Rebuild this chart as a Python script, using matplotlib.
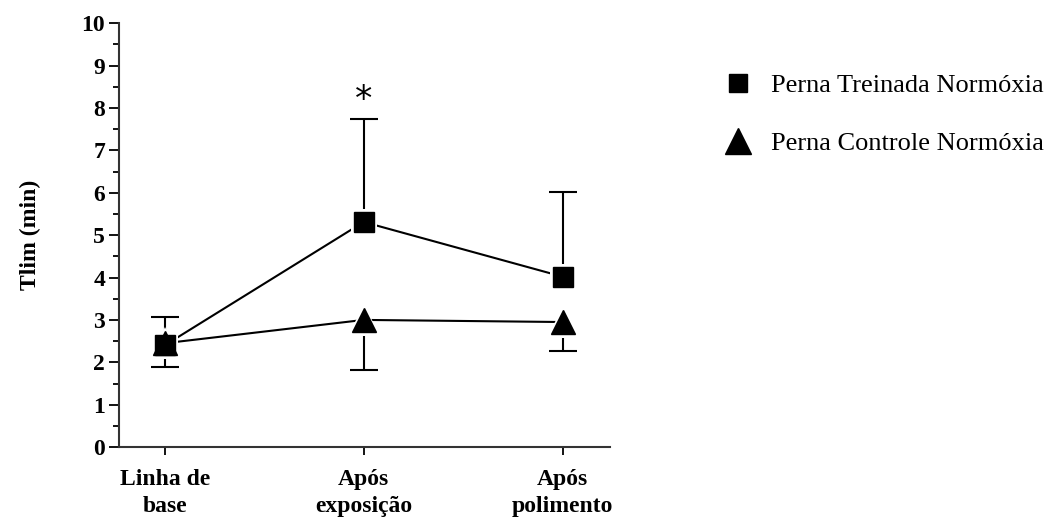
import numpy as np
import matplotlib.pyplot as plt
from matplotlib.lines import Line2D
from matplotlib.ticker import MultipleLocator

plt.rcParams['font.family'] = ['Liberation Serif', 'DejaVu Serif']

# data
categories = ['Linha de\nbase', 'Após\nexposição', 'Após\npolimento']
treinada = np.array([2.40, 5.31, 4.02])
treinada_up = np.array([0.68, 2.42, 2.00])
controle = np.array([2.45, 3.00, 2.95])
controle_down = np.array([0.57, 1.18, 0.69])

x = np.arange(len(categories))

fig = plt.figure(figsize=(10.5, 5.26), dpi=100)
ax = fig.add_axes([0.1133, 0.150, 0.468, 0.806])

# one-sided error bars (treinada up, controle down)
t_top = treinada + treinada_up
c_bot = controle - controle_down
ax.vlines(x, treinada, t_top, color='black', lw=1.5, zorder=2)
ax.vlines(x, c_bot, controle, color='black', lw=1.5, zorder=2)
ax.plot(x, t_top, ls='none', marker='_', ms=20, mew=1.5, color='black', zorder=2)
ax.plot(x, c_bot, ls='none', marker='_', ms=20, mew=1.5, color='black', zorder=2)

# connecting lines
ax.plot(x, treinada, color='black', lw=1.5, zorder=2)
ax.plot(x, controle, color='black', lw=1.5, zorder=2)

# white halo under markers (gap between marker and lines)
ax.plot(x, treinada, ls='none', marker='s', ms=19, color='white', mew=0, zorder=3)
ax.plot(x, controle, ls='none', marker='^', ms=23, color='white', mew=0, zorder=3)
ax.plot(x, treinada, ls='none', marker='s', ms=14, color='black', zorder=4)
ax.plot(x, controle, ls='none', marker='^', ms=17, color='black', zorder=4)

# significance mark
ax.text(x[1], t_top[1] + 0.06, '*', ha='center',
        va='bottom', fontsize=25, fontfamily='DejaVu Sans')

ax.set_xlim(-0.23, 2.24)
ax.set_ylim(0, 10)
ax.set_xticks(x)
ax.set_xticklabels(categories, fontsize=17, fontweight='bold', linespacing=1.35)
ax.yaxis.set_major_locator(MultipleLocator(1))
ax.yaxis.set_minor_locator(MultipleLocator(0.5))
for lbl in ax.get_yticklabels():
    lbl.set_fontweight('bold')
    lbl.set_fontsize(17)
ax.tick_params(axis='y', which='major', length=7, width=1.3, pad=3)
ax.tick_params(axis='y', which='minor', length=4, width=1.3)
ax.tick_params(axis='x', length=6, width=1.3, pad=10)
ax.set_ylabel('Tlim (min)', fontsize=17, fontweight='bold', labelpad=29)

for s in ['top', 'right']:
    ax.spines[s].set_visible(False)
for s in ['left', 'bottom']:
    ax.spines[s].set_linewidth(1.5)
    ax.spines[s].set_color('#333333')

handles = [
    Line2D([], [], ls='none', marker='s', ms=13, color='black'),
    Line2D([], [], ls='none', marker='^', ms=19, color='black'),
]
fig.legend(handles, ['Perna Treinada Normóxia', 'Perna Controle Normóxia'],
           loc='upper left', bbox_to_anchor=(0.68, 0.88), frameon=False,
           fontsize=19, handlelength=1.0, handletextpad=0.75, labelspacing=1.32,
           borderaxespad=0)

fig.savefig('out.png', dpi=100)
